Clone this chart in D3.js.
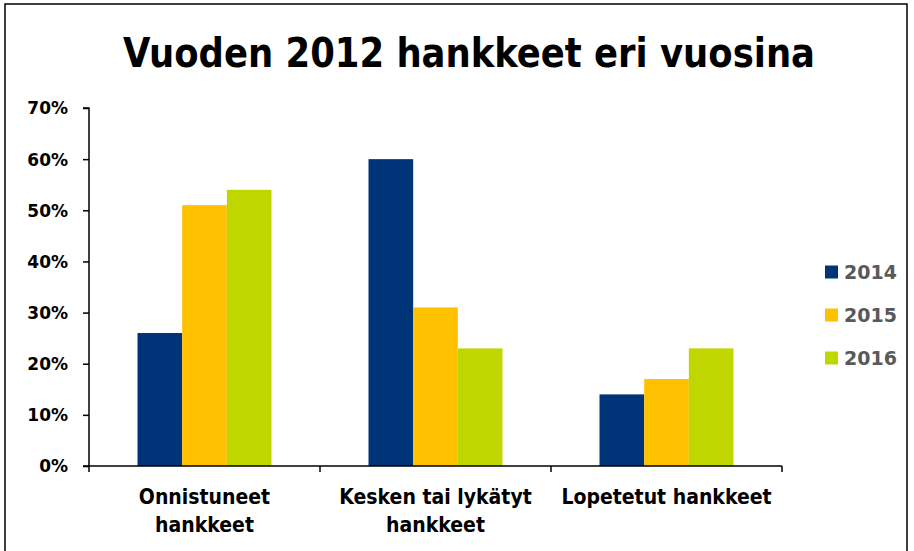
<!DOCTYPE html>
<html><head><meta charset="utf-8">
<script src="https://cdn.jsdelivr.net/npm/d3@7"></script>
<style>html,body{margin:0;padding:0;background:#fff;}svg{display:block;}</style>
</head><body>
<svg id="c" width="914" height="551"></svg>
<script>
const categories = [["Onnistuneet","hankkeet"],["Kesken tai lykätyt","hankkeet"],["Lopetetut hankkeet"]];
const seriesNames = ["2014","2015","2016"];
const values2014 = [26, 60, 14];
const values2015 = [51, 31, 17];
const values2016 = [54, 23, 23];
const yTicks = [0,10,20,30,40,50,60,70];
const colors = ["#003478","#FFC000","#BFD600"];
const title = "Vuoden 2012 hankkeet eri vuosina";

const series = [values2014, values2015, values2016];
const svg = d3.select("#c");
const font = "'DejaVu Sans Condensed','DejaVu Sans',sans-serif";
const wide = "'DejaVu Sans',sans-serif";

svg.append("rect").attr("x",5).attr("y",4).attr("width",902).attr("height",560)
  .attr("fill","#fff").attr("stroke","#000").attr("stroke-width",1.5);

svg.append("text").attr("x",469).attr("y",67).attr("text-anchor","middle")
  .attr("font-family",font).attr("font-weight","bold").attr("font-size",40)
  .attr("textLength",692).attr("lengthAdjust","spacingAndGlyphs")
  .attr("fill","#000").text(title);

const x0 = d3.scaleBand().domain(d3.range(categories.length)).range([89,782]).paddingInner(0).paddingOuter(0);
const x1 = d3.scaleBand().domain(d3.range(seriesNames.length)).range([0, 134]);
const y = d3.scaleLinear().domain([0,70]).range([466,108]);

const g = svg.append("g");
categories.forEach((c,i)=>{
  series.forEach((s,j)=>{
    g.append("rect")
      .attr("x", x0(i) + (x0.bandwidth()-134)/2 + x1(j))
      .attr("y", y(s[i]))
      .attr("width", x1.bandwidth())
      .attr("height", y(0)-y(s[i]))
      .attr("fill", colors[j]);
  });
});

// y axis
const yAxis = d3.axisLeft(y).tickValues(yTicks).tickSize(6).tickFormat(d=>d+"%");
const ya = svg.append("g").attr("transform","translate(89,0)").call(yAxis);
ya.select(".domain").attr("stroke","#000").attr("stroke-width",1.5).attr("d","M-6,108H0V466H-6");
ya.selectAll(".tick line").attr("stroke","#000").attr("stroke-width",1.5);
ya.selectAll(".tick text").attr("font-family",wide).attr("font-weight","bold").attr("font-size",17)
  .attr("fill","#000").attr("x",-21).attr("dy","0.35em");

// x axis
const xa = svg.append("g").attr("transform","translate(0,466)");
xa.append("line").attr("x1",89).attr("x2",782).attr("stroke","#000").attr("stroke-width",1.5);
const bounds = categories.map((c,i)=>x0(i)).concat([x0(categories.length-1)+x0.bandwidth()]);
bounds.forEach(b=>xa.append("line").attr("x1",b).attr("x2",b).attr("y1",0).attr("y2",6).attr("stroke","#000").attr("stroke-width",1.5));
categories.forEach((c,i)=>{
  const t = xa.append("text").attr("text-anchor","middle").attr("font-family",font)
    .attr("font-weight","bold").attr("font-size",21).attr("fill","#000");
  c.forEach((line,k)=>{
    t.append("tspan").attr("x", x0(i)+x0.bandwidth()/2).attr("y", 38 + k*28).text(line);
  });
});

// legend
const lg = svg.append("g");
seriesNames.forEach((n,j)=>{
  const cy = 272 + j*43;
  lg.append("rect").attr("x",825).attr("y",cy-6.5).attr("width",13).attr("height",13).attr("fill",colors[j]);
  lg.append("text").attr("x",844).attr("y",cy).attr("dy","0.36em").attr("font-family",wide)
    .attr("font-weight","bold").attr("font-size",19).attr("fill","#595959").text(n);
});
</script>
</body></html>
